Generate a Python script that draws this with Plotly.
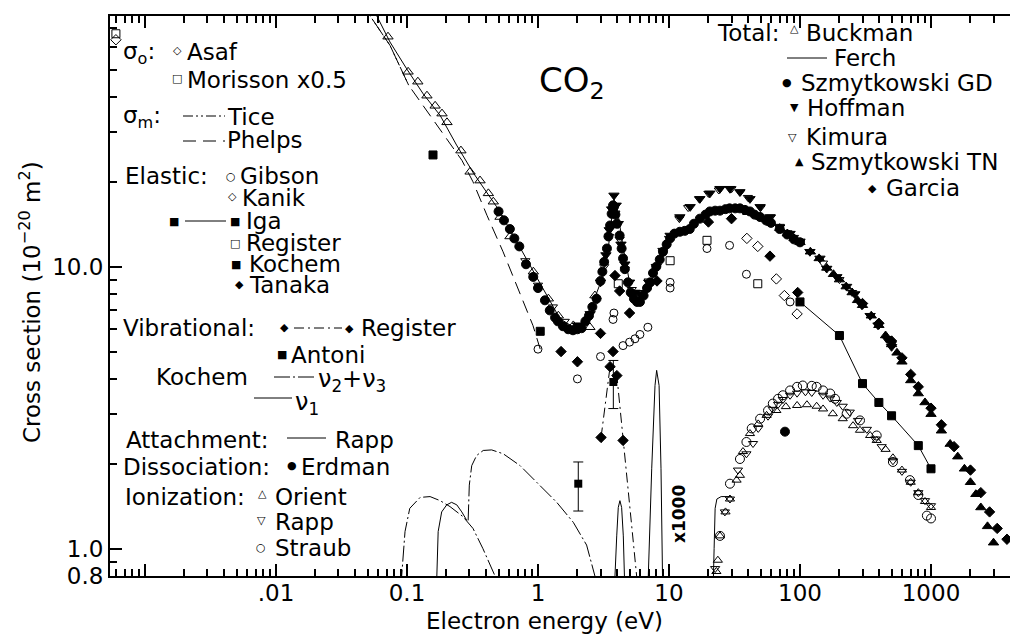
import plotly.graph_objects as go

# ---------------- data (energy in eV, cross section in 1e-20 m^2) ----------------
asaf_E = [0.0006]
asaf_s = [63.8]
morisson_E = [0.0006]
morisson_s = [67.0]

tice_E = [0.040, 0.0522, 0.0742, 0.103]
tice_s = [98.0, 77.6, 60.9, 44.0]

phelps_E = [0.045, 0.0522, 0.0742, 0.103, 0.150, 0.200, 0.263, 0.319, 0.408, 0.541, 0.703, 0.916, 1.04]
phelps_s = [86.0, 77.6, 60.9, 44.0, 34.3, 28.4, 23.8, 20.0, 15.2, 11.3, 8.36, 6.18, 5.1]

# Total
buckman_E = [0.0716, 0.102, 0.121, 0.142, 0.164, 0.185, 0.202, 0.258, 0.303, 0.361, 0.418, 0.456,
             0.513, 0.611, 0.921, 1.20, 1.43, 1.86, 2.49, 2.72]
buckman_s = [65.4, 49.1, 45.3, 40.4, 37.2, 34.9, 32.5, 25.8, 21.7, 20.2, 18.2, 17.0,
             15.0, 12.8, 9.6, 7.7, 6.7, 6.19, 6.1, 7.9]

ferch_E = [0.050, 0.0587, 0.0742, 0.0995, 0.133, 0.179, 0.239, 0.321, 0.484, 0.648, 0.869, 1.16,
           1.47, 1.86, 2.22, 2.64, 3.15, 3.44, 3.65, 3.80, 4.10, 4.48, 5.0]
ferch_s = [90.0, 77.8, 62.6, 50.3, 41.0, 34.4, 27.0, 21.5, 16.3, 12.9, 10.1, 7.91,
           6.54, 6.11, 6.37, 7.5, 9.3, 11.6, 15.2, 17.4, 15.2, 11.6, 8.8]

gd_E = [0.50, 0.55, 0.61, 0.66, 0.72, 0.81, 0.92, 1.00, 1.13, 1.23, 1.35, 1.42, 1.55, 1.70, 1.85,
        2.00, 2.15, 2.30, 2.45, 2.6, 2.8, 3.0, 3.1, 3.2, 3.36, 3.45, 3.55, 3.65, 3.74, 3.80, 3.90,
        4.00, 4.2, 4.35, 4.46, 4.6, 4.86, 5.1, 5.4, 5.7, 6.0, 6.4, 6.8, 7.2, 7.55, 8.0, 8.5, 9.0,
        9.6, 10.2, 11.0, 12.1, 13.2, 14.4, 15.5, 17.2, 19.0, 20.5, 22.5, 24.5, 27, 29, 32, 34.8,
        38, 41.5, 45, 49.6, 55, 60, 70, 80, 90, 100]
gd_s = [15.7, 14.6, 13.6, 12.6, 11.8, 10.2, 9.2, 8.4, 7.6, 7.0, 6.6, 6.4, 6.15, 6.0, 5.95,
        6.0, 6.05, 6.4, 6.7, 7.2, 7.7, 8.9, 9.6, 10.4, 11.6, 12.8, 14.0, 15.4, 16.5, 16.3, 15.3,
        14.2, 12.9, 11.6, 10.7, 9.8, 8.8, 8.1, 7.7, 7.5, 7.5, 7.9, 8.4, 8.8, 9.5, 10.0, 10.6, 11.3,
        12.0, 12.6, 13.1, 13.3, 13.4, 13.6, 14.2, 14.8, 15.3, 15.7, 15.8, 15.8, 16.0, 16.1, 16.1, 16.1,
        15.9, 15.7, 15.3, 15.0, 14.6, 14.3, 13.6, 13.0, 12.5, 12.2]

hoffman_E = [2.0, 2.5, 3.0, 3.3, 3.5, 3.65, 3.8, 3.95, 4.1, 4.3, 4.6, 5.0, 5.5, 6.0, 7.0, 8.0, 9.0,
             10.2, 12.1, 14.5, 17.2, 20.5, 24.5, 29.2, 34.8, 41.5, 49.6, 59, 70, 84, 100, 119, 142,
             160, 191, 227, 262, 297, 343, 394, 460, 500]
hoffman_s = [6.2, 6.8, 8.8, 11.0, 13.5, 16.0, 17.9, 16.5, 14.2, 12.0, 10.2, 8.8, 8.1, 8.0, 8.8, 10.0, 11.4,
             12.9, 15.0, 16.3, 17.4, 18.2, 18.9, 18.9, 18.4, 17.4, 16.3, 15.0, 13.8, 13.1, 12.3, 11.3, 10.7,
             9.85, 9.2, 8.5, 8.0, 7.3, 6.7, 6.2, 5.55, 5.2]

kimura_E = [0.8, 1.0, 1.3, 1.6, 2.0, 2.4, 2.8, 3.2, 3.5, 3.7, 3.9, 4.2, 4.6, 5.2, 6.0, 7.0, 8.0, 9.0,
            10, 12, 14, 17, 20, 24, 30, 35, 40, 50, 60, 70, 80, 90, 100, 150, 200, 250, 300, 400, 500]
kimura_s = [10.5, 8.6, 7.2, 6.4, 6.1, 6.5, 7.6, 10.0, 12.8, 16.0, 15.5, 12.5, 9.8, 8.3, 8.1, 8.9, 9.9, 11.2,
            12.6, 14.8, 16.2, 17.4, 18.2, 18.7, 18.9, 18.4, 17.6, 16.2, 15.0, 13.9, 13.2, 12.7, 12.2, 10.3,
            9.0, 8.1, 7.3, 6.2, 5.3]

tn_E = [40, 50, 60, 70, 80, 90, 100, 120, 140, 160, 180, 200, 225, 250, 275, 300, 350, 400, 450, 500,
        550, 600, 700, 800, 900, 1000, 1200, 1400, 1600, 1800, 2000, 2200, 2400, 2700, 3000]
tn_s = [15.6, 15.0, 14.3, 13.7, 13.1, 12.6, 12.2, 11.3, 10.7, 9.9, 9.4, 9.0, 8.5, 8.1, 7.6, 7.3, 6.7,
        6.2, 5.7, 5.3, 4.95, 4.6, 3.95, 3.55, 3.3, 3.0, 2.62, 2.35, 2.12, 1.92, 1.72, 1.56, 1.40, 1.20, 1.05]

garcia_E = [20, 30, 300, 400, 500, 600, 700, 800, 1000, 1200, 1500, 2000, 2400, 2800, 3200, 3800, 4500]
garcia_s = [14.4, 14.8, 7.4, 6.3, 5.45, 4.75, 4.15, 3.75, 3.15, 2.75, 2.3, 1.9, 1.58, 1.35, 1.18, 1.08, 0.95]

# Elastic
gibson_E = [1.0, 2.0, 3.0, 3.74, 3.8, 4.46, 5.0, 5.5, 6.0, 6.9, 10.2, 10.2, 19.5, 29, 39, 84]
gibson_s = [5.1, 4.0, 4.8, 6.5, 6.85, 5.25, 5.4, 5.55, 5.75, 6.1, 8.8, 8.4, 11.6, 11.9, 9.4, 7.5]

kanik_E = [39.3, 47.6, 66, 76, 95]
kanik_s = [12.6, 11.8, 9.05, 7.9, 6.8]

iga_E = [100, 200, 300, 400, 500, 800, 1000]
iga_s = [7.5, 5.7, 3.85, 3.3, 2.96, 2.32, 1.92]

register_el_E = [4.1, 10.2, 19.5, 47.6]
register_el_s = [8.7, 10.5, 12.4, 8.7]

kochem_el_E = [0.158, 1.04]
kochem_el_s = [24.9, 5.9]

tanaka_E = [1.5, 2.0, 3.0, 3.74, 3.87, 4.2, 5.0, 8.1, 59, 96]
tanaka_s = [5.0, 4.6, 5.8, 5.0, 9.3, 8.2, 6.85, 8.9, 10.9, 8.1]

# Vibrational
register_vib_E = [3.03, 3.55, 4.0, 4.46, 6.0]
register_vib_s = [2.48, 4.42, 4.11, 2.42, 0.61]

antoni_E = [2.03, 3.76]
antoni_s = [1.70, 3.90]
antoni_up = [0.33, 0.75]
antoni_dn = [0.34, 0.76]

# Kochem vibrational (x1000 region curves)
kochem_v2_E = [0.088, 0.0911, 0.0966, 0.105, 0.126, 0.150, 0.179, 0.213, 0.267, 0.319, 0.38, 0.47, 0.50]
kochem_v2_s = [0.5, 0.80, 1.15, 1.39, 1.52, 1.53, 1.48, 1.41, 1.30, 1.18, 1.0, 0.80, 0.7]
kochem_v3_E = [0.293, 0.299, 0.312, 0.34, 0.382, 0.443, 0.543, 0.73, 0.977, 1.39, 1.86, 2.35, 2.72, 2.9]
kochem_v3_s = [1.26, 1.68, 1.97, 2.14, 2.23, 2.24, 2.17, 1.97, 1.72, 1.46, 1.24, 1.03, 0.80, 0.7]
kochem_v1_E = [0.168, 0.169, 0.173, 0.184, 0.201, 0.219, 0.24, 0.262, 0.286]
kochem_v1_s = [0.5, 0.80, 1.15, 1.35, 1.43, 1.46, 1.43, 1.35, 1.26]

# Attachment (x1000)
rapp_att_E = [3.80, 3.87, 3.99, 4.10, 4.22, 4.35, 4.48, 4.61, 4.70, 6.85, 6.95, 7.38, 7.82, 8.05,
              8.40, 8.69, 8.95, 9.05]
rapp_att_s = [0.5, 0.8, 1.11, 1.40, 1.48, 1.40, 1.11, 0.8, 0.5, 0.5, 0.8, 1.92, 3.79, 4.29,
              3.79, 1.92, 0.8, 0.5]
step_E = [21.3, 21.7, 22.1, 22.5, 23.2, 25.0, 30.1]
step_s = [0.5, 0.8, 1.0, 1.39, 1.50, 1.53, 1.53]

# Dissociation
erdman_E = [76.8]
erdman_s = [2.6]

# Ionization
orient_E = [23, 23.6, 24.5, 27, 29.2, 32.8, 34.8, 36.7, 41.5, 48, 55.6, 66, 78, 95, 113, 134, 150,
            178, 212, 254, 287, 343, 385, 450, 512, 600, 700, 800, 900, 1000]
orient_s = [0.83, 0.91, 1.11, 1.35, 1.50, 1.75, 1.82, 2.21, 2.56, 2.77, 2.97, 3.09, 3.19, 3.22, 3.24,
            3.2, 3.13, 3.01, 2.89, 2.73, 2.63, 2.52, 2.42, 2.25, 2.1, 1.9, 1.72, 1.58, 1.47, 1.4]
rappi_E = [22.5, 26.7, 29.2, 33.6, 39, 43.8, 48, 57, 62, 68, 74, 84, 95, 110, 123, 150, 170, 191,
           212, 240, 277, 324, 375, 420, 512, 600, 700, 800, 900, 1000]
rappi_s = [0.85, 1.35, 1.50, 1.90, 2.17, 2.36, 2.67, 2.95, 3.12, 3.25, 3.38, 3.5, 3.56, 3.6, 3.58,
           3.5, 3.42, 3.3, 3.2, 3.05, 2.85, 2.65, 2.45, 2.3, 2.05, 1.88, 1.72, 1.58, 1.48, 1.42]
straub_E = [24.5, 29.2, 34.8, 39, 42.8, 49.6, 57, 62, 68, 74, 84, 95, 105, 123, 134, 150, 170, 185,
            227, 287, 385, 512, 690, 800, 930, 1000]
straub_s = [1.11, 1.70, 2.08, 2.39, 2.67, 2.89, 3.09, 3.27, 3.40, 3.50, 3.64, 3.75, 3.79, 3.78, 3.75,
            3.64, 3.55, 3.40, 3.01, 2.85, 2.52, 2.03, 1.75, 1.55, 1.31, 1.28]

# ---------------- figure ----------------
FONT = "DejaVu Sans"
FS = 23
fig = go.Figure()


def pts(E, s, symbol, size=8):
    fig.add_trace(go.Scatter(
        x=E, y=s, mode="markers",
        marker=dict(symbol=symbol, size=size, color="black",
                    line=dict(width=1, color="black")),
        showlegend=False, hoverinfo="x+y"))


def curve(E, s, dash="solid", width=1):
    fig.add_trace(go.Scatter(
        x=E, y=s, mode="lines",
        line=dict(color="black", width=width, dash=dash),
        showlegend=False, hoverinfo="x+y"))


# lines
curve(tice_E, tice_s, dash="10px,3px,2px,3px,2px,3px")
curve(phelps_E, phelps_s, dash="13px,7px")
curve(ferch_E, ferch_s)
curve(iga_E, iga_s)
curve(register_vib_E, register_vib_s, dash="10px,4px,2px,4px")
curve(kochem_v2_E, kochem_v2_s, dash="16px,3px,2px,3px")
curve(kochem_v3_E, kochem_v3_s, dash="16px,3px,2px,3px")
curve(kochem_v1_E, kochem_v1_s)
curve(rapp_att_E, rapp_att_s)
curve(step_E, step_s)

# markers
pts(asaf_E, asaf_s, "diamond-open", 8)
pts(morisson_E, morisson_s, "square-open", 8)
pts(buckman_E, buckman_s, "triangle-up-open", 9)
pts(gd_E, gd_s, "circle", 9)
pts(hoffman_E, hoffman_s, "triangle-down", 9)
pts(kimura_E, kimura_s, "triangle-down-open", 8)
pts(tn_E, tn_s, "triangle-up", 9)
pts(garcia_E, garcia_s, "diamond", 8)
pts(gibson_E, gibson_s, "circle-open", 8)
pts(kanik_E, kanik_s, "diamond-open", 8)
pts(iga_E, iga_s, "square", 8)
pts(register_el_E, register_el_s, "square-open", 8)
pts(kochem_el_E, kochem_el_s, "square", 8)
pts(tanaka_E, tanaka_s, "diamond", 8)
pts(register_vib_E, register_vib_s, "diamond", 8)
fig.add_trace(go.Scatter(
    x=antoni_E, y=antoni_s, mode="markers",
    marker=dict(symbol="square", size=8, color="black"),
    error_y=dict(type="data", symmetric=False, array=antoni_up, arrayminus=antoni_dn,
                 color="black", thickness=1, width=5),
    showlegend=False))
pts(erdman_E, erdman_s, "circle", 9)
pts(orient_E, orient_s, "triangle-up-open", 8)
pts(rappi_E, rappi_s, "triangle-down-open", 8)
pts(straub_E, straub_s, "circle-open", 9)

# ---------------- layout helpers (pixel -> paper) ----------------
L, R, T, B = 110, 0, 16, 59
W, H = 1010 - L - R, 635 - T - B


def PX(x):
    return (x - L) / W


def PY(y):
    return (635 - B - y) / H


annotations = []


def txt(text, x, y, size=FS, xanchor="left", angle=0, bold=False):
    annotations.append(dict(
        text=text, x=PX(x), y=PY(y), xref="paper", yref="paper",
        xanchor=xanchor, yanchor="middle", showarrow=False, textangle=angle, borderpad=0,
        font=dict(family=FONT, size=size, color="black", weight="bold" if bold else "normal")))


def sym(ch, x, y, size=11):
    annotations.append(dict(
        text=ch, x=PX(x), y=PY(y), xref="paper", yref="paper",
        xanchor="center", yanchor="middle", showarrow=False, borderpad=0,
        font=dict(family=FONT, size=size, color="black")))


shapes = []


def seg(x0, x1, y, dash="solid"):
    shapes.append(dict(type="line", xref="paper", yref="paper",
                       x0=PX(x0), x1=PX(x1), y0=PY(y), y1=PY(y),
                       line=dict(color="black", width=1, dash=dash)))


# left legend block
txt("σ<sub>o</sub>:", 122, 53)
sym("◇", 177, 50)
txt("Asaf", 186, 52)
sym("□", 177, 78)
txt("Morisson x0.5", 186, 80)
txt("σ<sub>m</sub>:", 122, 117)
seg(183, 225, 116, "10px,3px,2px,3px,2px,3px")
txt("Tice", 226, 117)
seg(183, 225, 141, "13px,7px")
txt("Phelps", 226, 140)
txt("Elastic:", 124, 176)
sym("○", 231, 176)
txt("Gibson", 239, 176)
sym("◇", 232, 197)
txt("Kanik", 241, 198)
sym("■", 174, 221)
seg(185, 226, 221)
sym("■", 235, 221)
txt("Iga", 245, 221)
sym("□", 235, 243)
txt("Register", 245, 243)
sym("■", 236, 264)
txt("Kochem", 248, 264)
sym("◆", 239, 284)
txt("Tanaka", 248, 285)
txt("Vibrational:", 122, 328)
sym("◆", 284, 327)
seg(294, 342, 328, "10px,4px,2px,4px")
sym("◆", 349, 328)
txt("Register", 360, 328)
sym("■", 282, 354)
txt("Antoni", 290, 355)
txt("Kochem", 155, 377)
seg(274, 317, 377, "16px,3px,2px,3px")
txt("ν<sub>2</sub>+ν<sub>3</sub>", 317, 380, size=24)
seg(254, 292, 398)
txt("ν<sub>1</sub>", 294, 403, size=24)
txt("Attachment:", 125, 440)
seg(287, 326, 438)
txt("Rapp", 334, 440)
txt("Dissociation:", 122, 467)
sym("●", 292, 465)
txt("Erdman", 300, 467)
txt("Ionization:", 124, 497)
sym("△", 262, 493)
txt("Orient", 274, 497)
sym("▽", 261, 520)
txt("Rapp", 274, 522)
sym("○", 261, 547)
txt("Straub", 274, 548)

# right legend block
txt("Total:", 716, 33)
sym("△", 794, 28)
txt("Buckman", 805, 33)
seg(787, 827, 58)
txt("Ferch", 833, 58)
sym("●", 787, 82)
txt("Szmytkowski GD", 800, 83)
sym("▼", 794, 108)
txt("Hoffman", 806, 108)
sym("▽", 792, 137)
txt("Kimura", 805, 137)
sym("▲", 799, 162)
txt("Szmytkowski TN", 810, 162)
sym("◆", 872, 188)
txt("Garcia", 885, 188)

# other labels
txt("CO<sub>2</sub>", 572, 82, size=34, xanchor="center")
txt("x1000", 679, 514, size=17, xanchor="center", angle=-90, bold=True)
txt("Electron energy (eV)", 544, 621, xanchor="center")
txt("Cross section (10<sup>−20</sup> m<sup>2</sup>)", 30, 302, xanchor="center", angle=-90)

# ticks
x_major = [0.001, 0.01, 0.1, 1, 10, 100, 1000]
x_labels = ["", ".01", "0.1", "1", "10", "100", "1000"]
x_minor = [k * 10.0 ** d for d in range(-4, 4) for k in range(2, 10)]
y_major = [0.8, 1, 10]
y_labels = ["0.8", "1.0", "10.0"]
y_minor = [0.9] + [k * 1.0 for k in range(2, 10)] + [k * 10.0 for k in range(2, 10)]

fig.update_layout(
    width=1010, height=635,
    margin=dict(l=L, r=R, t=T, b=B),
    paper_bgcolor="white", plot_bgcolor="white",
    annotations=annotations, shapes=shapes,
    showlegend=False,
    xaxis=dict(type="log", range=[-3.267, 3.603], showgrid=False, zeroline=False,
               tickmode="array", tickvals=x_major, ticktext=x_labels,
               ticks="inside", ticklen=12, tickwidth=1.5, tickcolor="black",
               showline=True, linewidth=2, linecolor="black", mirror="ticks",
               ticklabelstandoff=-5,
               tickfont=dict(family=FONT, size=FS, color="black"),
               minor=dict(tickmode="array", tickvals=x_minor, ticks="inside", ticklen=7,
                          tickwidth=1.5, tickcolor="black", showgrid=False)),
    yaxis=dict(type="log", range=[-0.0969, 1.889], showgrid=False, zeroline=False,
               tickmode="array", tickvals=y_major, ticktext=y_labels,
               ticks="inside", ticklen=12, tickwidth=1.5, tickcolor="black",
               showline=True, linewidth=2, linecolor="black", mirror=False,
               tickfont=dict(family=FONT, size=FS, color="black"),
               minor=dict(tickmode="array", tickvals=y_minor, ticks="inside", ticklen=7,
                          tickwidth=1.5, tickcolor="black", showgrid=False)),
)

fig.write_html("out.html")
